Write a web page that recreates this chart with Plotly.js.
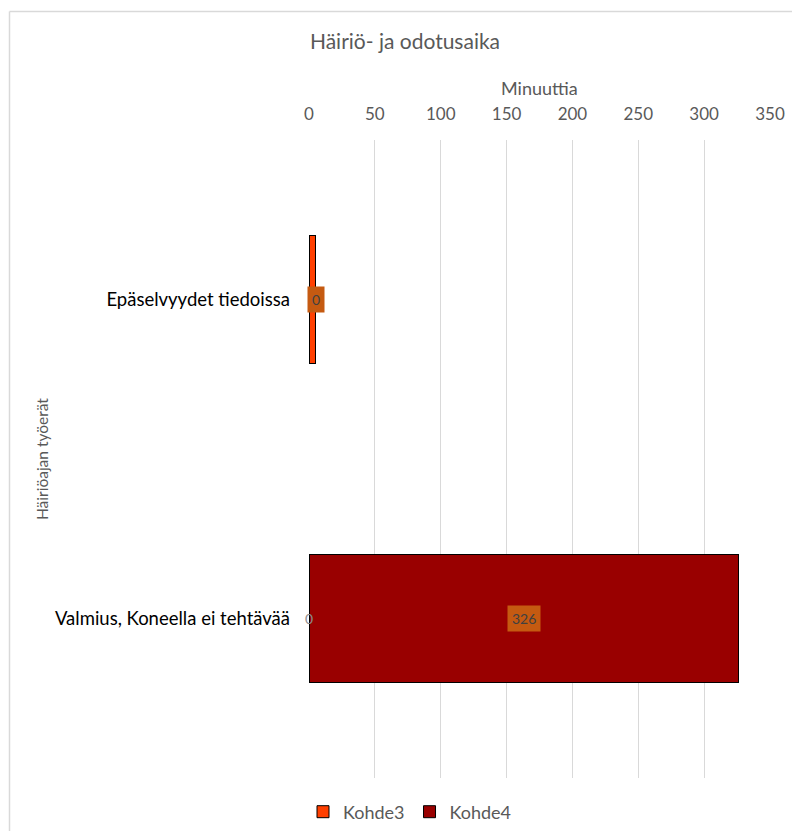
<!DOCTYPE html>
<html>
<head>
<meta charset="utf-8">
<script src="https://cdn.plot.ly/plotly-3.0.1.min.js"></script>
<style>html,body{margin:0;padding:0;background:#fff;} #chart{width:792px;height:831px;}</style>
</head>
<body>
<div id="chart"></div>
<script>
const categories = ["Epäselvyydet tiedoissa", "Valmius, Koneella ei tehtävää"];
const seriesNames = ["Kohde3", "Kohde4"];
const kohde3 = [5, 0];
const kohde4 = [0, 326];
const xTicks = [0, 50, 100, 150, 200, 250, 300, 350];

const FONT = "Lato, 'Open Sans', sans-serif";
const GRAY = "#595959";

const traces = [
  {type: "bar", orientation: "h", name: seriesNames[0], y: categories, x: kohde3,
   marker: {color: "#ff3f00", line: {color: "#000", width: 1}}, hoverinfo: "x"},
  {type: "bar", orientation: "h", name: seriesNames[1], y: categories, x: kohde4,
   marker: {color: "#990000", line: {color: "#000", width: 1}}, hoverinfo: "x"}
];

const annotations = [];
// Kohde3 labels: plain grey text at bar centre (hidden where the Kohde4 label box covers it)
categories.forEach((c, i) => {
  const c3 = kohde3[i] / 2, c4 = kohde3[i] + kohde4[i] / 2;
  if (Math.abs(c4 - c3) < 10) return;
  annotations.push({x: c3, y: c, xref: "x", yref: "y", text: String(kohde3[i]),
    showarrow: false, font: {family: FONT, size: 14, color: "#8c8c8c"}});
});
// Kohde4 labels: boxed
categories.forEach((c, i) => {
  annotations.push({x: kohde3[i] + kohde4[i] / 2, y: c, xref: "x", yref: "y", text: String(kohde4[i]),
    showarrow: false, bgcolor: "#c55a11", borderpad: 4,
    font: {family: FONT, size: 14, color: "#404040"}});
});
// y axis title
annotations.push({x: (42 - 309) / 461, y: (778 - 459) / 638, xref: "paper", yref: "paper", text: "Häiriöajan työerät",
  textangle: -90, showarrow: false, xanchor: "center", yanchor: "middle",
  font: {family: FONT, size: 15.5, color: GRAY}});
// x axis title
annotations.push({x: (539 - 309) / 461, y: 1.0 + (140 - 88) / 638, xref: "paper", yref: "paper", text: "Minuuttia",
  showarrow: false, xanchor: "center", yanchor: "middle", font: {family: FONT, size: 18, color: GRAY}});

const layout = {
  width: 792, height: 831,
  margin: {l: 309, r: 22, t: 140, b: 53},
  paper_bgcolor: "#fff", plot_bgcolor: "#fff",
  font: {family: FONT, color: GRAY},
  barmode: "stack",
  bargap: 0.6,
  showlegend: true,
  title: {text: "Häiriö- ja odotusaika", font: {family: FONT, size: 21, color: GRAY},
    x: (405 - 309) / 461, xref: "paper", xanchor: "center", y: 1 - 42 / 831, yanchor: "middle"},
  xaxis: {side: "top", range: [0, 350], tickvals: xTicks, ticktext: xTicks.map(String),
    showgrid: true, gridcolor: "#d9d9d9", gridwidth: 1, zeroline: false, showline: false,
    ticks: "", ticklabelstandoff: 16, tickfont: {family: FONT, size: 17, color: GRAY}, fixedrange: true},
  yaxis: {autorange: "reversed", showgrid: false, zeroline: false, showline: false, ticks: "",
    ticklabelstandoff: 18, tickfont: {family: FONT, size: 18.5, color: "#000"}, fixedrange: true},
  legend: {orientation: "h", x: (410 - 309) / 461, xanchor: "center", yref: "container", y: 1 - 812 / 831, yanchor: "middle",
    font: {family: FONT, size: 18, color: GRAY}, traceorder: "normal", itemwidth: 30},
  annotations: annotations,
  shapes: [
    {type: "line", xref: "paper", yref: "paper", x0: (9.5 - 309) / 461, x1: 1.2, y0: (778 - 11.5) / 638, y1: (778 - 11.5) / 638,
      line: {color: "#d9d9d9", width: 1.5}},
    {type: "line", xref: "paper", yref: "paper", x0: (9.5 - 309) / 461, x1: (9.5 - 309) / 461, y0: (778 - 11.5) / 638, y1: -0.2,
      line: {color: "#d9d9d9", width: 1.5}}
  ]
};

Plotly.newPlot("chart", traces, layout, {displayModeBar: false, staticPlot: true});
</script>
</body>
</html>
